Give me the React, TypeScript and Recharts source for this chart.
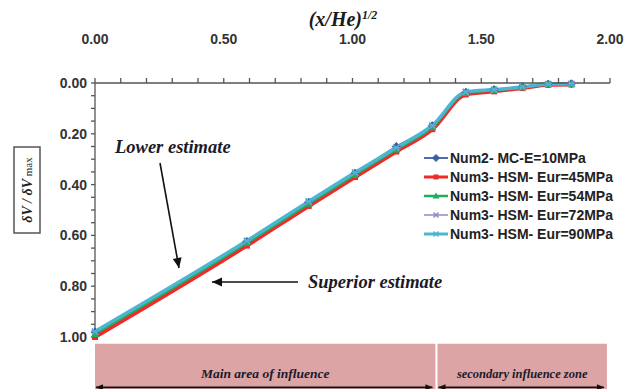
import { LineChart, Line, XAxis, YAxis, ReferenceArea, Legend } from 'recharts'

// square root of x/He, shared by every run
const xRatio = [0, 0.59, 0.83, 1.01, 1.17, 1.31, 1.44, 1.55, 1.66, 1.76, 1.85]

// normalised settlement dV / dVmax per run
const mc10 = [0.98, 0.624, 0.469, 0.355, 0.25, 0.168, 0.036, 0.026, 0.015, 0.004, 0.003]
const hsm45 = [1.0, 0.64, 0.484, 0.37, 0.27, 0.182, 0.045, 0.033, 0.02, 0.007, 0.006]
const hsm54 = [0.988, 0.63, 0.475, 0.361, 0.262, 0.174, 0.039, 0.029, 0.017, 0.005, 0.004]
const hsm72 = [0.979, 0.622, 0.467, 0.353, 0.255, 0.168, 0.036, 0.027, 0.016, 0.005, 0.004]
const hsm90 = [0.978, 0.621, 0.466, 0.352, 0.255, 0.167, 0.035, 0.026, 0.016, 0.004, 0.003]

const xTicks = [0, 0.1, 0.2, 0.3, 0.4, 0.5, 0.6, 0.7, 0.8, 0.9, 1.0, 1.1, 1.2, 1.3, 1.4, 1.5, 1.6, 1.7, 1.8, 1.9, 2.0]
const yTicks = [0, 0.05, 0.1, 0.15, 0.2, 0.25, 0.3, 0.35, 0.4, 0.45, 0.5, 0.55, 0.6, 0.65, 0.7, 0.75, 0.8, 0.85, 0.9, 0.95, 1.0]

// influence zones along x
const mainZone = [0, 1.322]
const secondaryZone = [1.33, 1.988]

type Shape = 'diamond' | 'square' | 'triangle' | 'cross' | 'star'

const series: { key: string; name: string; color: string; width: number; shape: Shape; values: number[] }[] = [
	{ key: 'mc10', name: 'Num2- MC-E=10MPa', color: '#3a5da6', width: 1.8, shape: 'diamond', values: mc10 },
	{ key: 'hsm45', name: 'Num3- HSM- Eur=45MPa', color: '#f02a2a', width: 4, shape: 'square', values: hsm45 },
	{ key: 'hsm54', name: 'Num3- HSM- Eur=54MPa', color: '#1fae5a', width: 2.5, shape: 'triangle', values: hsm54 },
	{ key: 'hsm72', name: 'Num3- HSM- Eur=72MPa', color: '#9686c4', width: 1.5, shape: 'cross', values: hsm72 },
	{ key: 'hsm90', name: 'Num3- HSM- Eur=90MPa', color: '#4cb6d2', width: 3.5, shape: 'star', values: hsm90 },
]

const data = xRatio.map((x, i) => {
	const row: Record<string, number> = { x }
	series.forEach((s) => {
		row[s.key] = s.values[i]
	})
	return row
})

const axisColor = '#555'
const tickFont = { fontSize: 14, fontWeight: 'bold', fill: '#333', fontFamily: 'Arial, "Liberation Sans", sans-serif' }
const serifBold = '"Liberation Serif", "Times New Roman", serif'

function Marker({ shape, cx, cy, color, size = 4 }: { shape: Shape; cx: number; cy: number; color: string; size?: number }) {
	const s = size
	switch (shape) {
		case 'diamond':
			return <path d={`M${cx},${cy - s} L${cx + s},${cy} L${cx},${cy + s} L${cx - s},${cy} Z`} fill={color} stroke={color} />
		case 'square':
			return <rect x={cx - s + 1} y={cy - s + 1} width={2 * s - 2} height={2 * s - 2} fill={color} />
		case 'triangle':
			return <path d={`M${cx},${cy - s} L${cx + s},${cy + s - 1} L${cx - s},${cy + s - 1} Z`} fill={color} />
		case 'cross':
			return (
				<g stroke={color} strokeWidth={1.5}>
					<line x1={cx - s + 1} y1={cy - s + 1} x2={cx + s - 1} y2={cy + s - 1} />
					<line x1={cx - s + 1} y1={cy + s - 1} x2={cx + s - 1} y2={cy - s + 1} />
				</g>
			)
		default:
			return (
				<g stroke={color} strokeWidth={1.5}>
					<line x1={cx - s} y1={cy} x2={cx + s} y2={cy} />
					<line x1={cx - s + 1} y1={cy - s + 1} x2={cx + s - 1} y2={cy + s - 1} />
					<line x1={cx - s + 1} y1={cy + s - 1} x2={cx + s - 1} y2={cy - s + 1} />
				</g>
			)
	}
}

function SeriesLegend() {
	return (
		<div style={{ fontFamily: 'Arial, "Liberation Sans", sans-serif', fontWeight: 'bold', fontSize: 14, color: '#222' }}>
			{series.map((s) => (
				<div key={s.key} style={{ display: 'flex', alignItems: 'center', height: 18.8, whiteSpace: 'nowrap' }}>
					<svg width={24} height={10} style={{ marginRight: 2 }}>
						<line x1={0} y1={5} x2={24} y2={5} stroke={s.color} strokeWidth={Math.min(s.width, 3)} />
						<Marker shape={s.shape} cx={12} cy={5} color={s.color} size={3.5} />
					</svg>
					<span>{s.name}</span>
				</div>
			))}
		</div>
	)
}

function Arrow({ x1, y1, x2, y2, head = 8, both = false }: { x1: number; y1: number; x2: number; y2: number; head?: number; both?: boolean }) {
	const tip = (fx: number, fy: number, tx: number, ty: number) => {
		const a = Math.atan2(ty - fy, tx - fx)
		const w = head * 0.45
		const bx = tx - head * Math.cos(a)
		const by = ty - head * Math.sin(a)
		return `${tx},${ty} ${bx + w * Math.sin(a)},${by - w * Math.cos(a)} ${bx - w * Math.sin(a)},${by + w * Math.cos(a)}`
	}
	return (
		<g>
			<line x1={x1} y1={y1} x2={x2} y2={y2} stroke="#111" strokeWidth={1.6} />
			<polygon points={tip(x1, y1, x2, y2)} fill="#111" />
			{both && <polygon points={tip(x2, y2, x1, y1)} fill="#111" />}
		</g>
	)
}

function ZoneLabel({ viewBox, text, size }: { viewBox?: { x: number; y: number; width: number; height: number }; text: string; size: number }) {
	if (!viewBox) return null
	const { x, y, width, height } = viewBox
	return (
		<g>
			<text
				x={x + width / 2}
				y={y + 34}
				textAnchor="middle"
				fontFamily={serifBold}
				fontStyle="italic"
				fontWeight="bold"
				fontSize={size}
				fill="#1a1a2a"
			>
				{text}
			</text>
			<Arrow x1={x + 1} y1={y + height - 3} x2={x + width - 3} y2={y + height - 3} head={7} both />
		</g>
	)
}

export default function App() {
	return (
		<div style={{ position: 'absolute', left: 0, top: 0, width: 634, height: 389, background: '#fff' }}>
			<LineChart width={634} height={389} data={data} margin={{ top: 43, right: 24, bottom: 52, left: 35 }}>
				<XAxis
					dataKey="x"
					type="number"
					orientation="top"
					domain={[0, 2]}
					ticks={xTicks}
					interval={0}
					height={40}
					tickSize={5}
					tickMargin={34}
					tick={tickFont}
					stroke={axisColor}
					strokeWidth={1.3}
					tickFormatter={(v: number) => (Math.round(v * 100) % 50 === 0 ? v.toFixed(2) : '')}
				/>
				<YAxis
					type="number"
					reversed
					domain={[0, 1]}
					ticks={yTicks}
					interval={0}
					width={60}
					tickSize={4}
					tickMargin={4}
					tick={tickFont}
					stroke={axisColor}
					strokeWidth={1.3}
					tickFormatter={(v: number) => (Math.round(v * 100) % 20 === 0 ? v.toFixed(2) : '')}
				/>
				<ReferenceArea
					x1={mainZone[0]}
					x2={mainZone[1]}
					y1={1.027}
					y2={1.21}
					ifOverflow="visible"
					fill="#dca4a4"
					fillOpacity={1}
					label={<ZoneLabel text="Main area of influence" size={13.5} />}
				/>
				<ReferenceArea
					x1={secondaryZone[0]}
					x2={secondaryZone[1]}
					y1={1.027}
					y2={1.21}
					ifOverflow="visible"
					fill="#dca4a4"
					fillOpacity={1}
					label={<ZoneLabel text="secondary influence zone" size={12.5} />}
				/>
				{series.map((s) => (
					<Line
						key={s.key}
						dataKey={s.key}
						name={s.name}
						type="monotone"
						stroke={s.color}
						strokeWidth={s.width}
						isAnimationActive={false}
						dot={(p: any) => <Marker key={`${s.key}-${p.index}`} shape={s.shape} cx={p.cx} cy={p.cy} color={s.color} />}
						activeDot={false}
					/>
				))}
				<Legend
					layout="vertical"
					align="center"
					verticalAlign="middle"
					content={<SeriesLegend />}
					wrapperStyle={{ left: 424, top: 149, width: 210 }}
				/>
			</LineChart>
			<svg width={634} height={389} style={{ position: 'absolute', left: 0, top: 0, pointerEvents: 'none' }}>
				<text x={343} y={26} textAnchor="middle" fontFamily={serifBold} fontStyle="italic" fontWeight="bold" fontSize={20} fill="#1a1a1a">
					(x/He)
					<tspan fontSize={12} dy={-7}>1/2</tspan>
				</text>
				<rect x={14} y={147} width={26} height={86} fill="none" stroke="#555" strokeWidth={1.5} />
				<text
					transform="translate(32,190) rotate(-90)"
					textAnchor="middle"
					fontFamily={serifBold}
					fontStyle="italic"
					fontWeight="bold"
					fontSize={14}
					fill="#222"
				>
					δV / δV
					<tspan fontStyle="normal" fontWeight="normal" fontSize={11}> max</tspan>
				</text>
				<text x={115} y={153} fontFamily={serifBold} fontStyle="italic" fontWeight="bold" fontSize={18.5} fill="#1a1a2a">
					Lower estimate
				</text>
				<Arrow x1={160} y1={163} x2={179} y2={268} head={10} />
				<text x={308} y={288} fontFamily={serifBold} fontStyle="italic" fontWeight="bold" fontSize={18.5} fill="#1a1a2a">
					Superior estimate
				</text>
				<Arrow x1={298} y1={282} x2={212} y2={282} head={10} />
			</svg>
		</div>
	)
}
